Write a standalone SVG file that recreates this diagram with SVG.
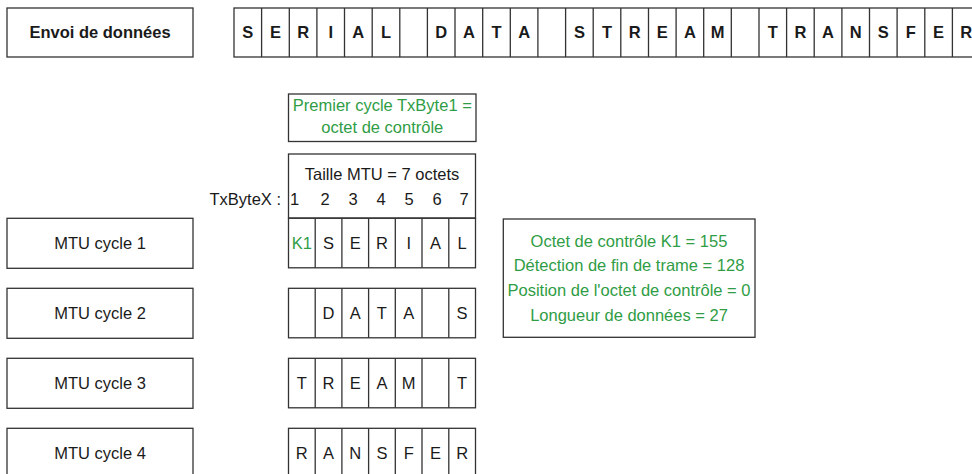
<svg xmlns="http://www.w3.org/2000/svg" width="972" height="474" viewBox="0 0 972 474">
  <style>
    .box { fill: #fff; stroke: #333; stroke-width: 1.3; }
    .div { stroke: #333; stroke-width: 1.3; fill: none; }
    text { font-family: "Liberation Sans", Arial, sans-serif; font-size: 16.5px; fill: #1a1a1a; }
    .c { text-anchor: middle; }
    .b { font-weight: bold; }
    .g { fill: #2f9d45; }
  </style>
  <rect width="972" height="474" fill="#fff"/>

  <!-- Data to send -->
  <g id="envoi">
    <rect class="box" x="7" y="8" width="186" height="49"/>
    <text class="c b" x="100" y="38">Envoi de données</text>
  </g>

  <!-- Serial stream, one cell per character (27.63 px pitch) -->
  <g id="stream">
    <rect class="box" x="234" y="8" width="746" height="49"/>
    <path class="div" d="M261.6 8V57M289.3 8V57M316.9 8V57M344.5 8V57M372.2 8V57M399.8 8V57M427.4 8V57M455 8V57M482.7 8V57M510.3 8V57M537.9 8V57M565.6 8V57M593.2 8V57M620.8 8V57M648.5 8V57M676.1 8V57M703.7 8V57M731.3 8V57M759 8V57M786.6 8V57M814.2 8V57M841.9 8V57M869.5 8V57M897.1 8V57M924.8 8V57M952.4 8V57"/>
    <g class="b">
      <text class="c b" x="247.8" y="38">S</text>
      <text class="c b" x="275.4" y="38">E</text>
      <text class="c b" x="303.1" y="38">R</text>
      <text class="c b" x="330.7" y="38">I</text>
      <text class="c b" x="358.3" y="38">A</text>
      <text class="c b" x="386" y="38">L</text>
      <text class="c b" x="441.2" y="38">D</text>
      <text class="c b" x="468.9" y="38">A</text>
      <text class="c b" x="496.5" y="38">T</text>
      <text class="c b" x="524.1" y="38">A</text>
      <text class="c b" x="579.4" y="38">S</text>
      <text class="c b" x="607" y="38">T</text>
      <text class="c b" x="634.6" y="38">R</text>
      <text class="c b" x="662.3" y="38">E</text>
      <text class="c b" x="689.9" y="38">A</text>
      <text class="c b" x="717.5" y="38">M</text>
      <text class="c b" x="772.8" y="38">T</text>
      <text class="c b" x="800.4" y="38">R</text>
      <text class="c b" x="828" y="38">A</text>
      <text class="c b" x="855.7" y="38">N</text>
      <text class="c b" x="883.3" y="38">S</text>
      <text class="c b" x="910.9" y="38">F</text>
      <text class="c b" x="938.6" y="38">E</text>
      <text class="c b" x="966.2" y="38">R</text>
    </g>
  </g>

  <!-- First-cycle note -->
  <g id="note-premier">
    <rect class="box" x="288.5" y="94" width="187.5" height="47.5"/>
    <text class="c g" x="382.3" y="110.5">Premier cycle TxByte1 =</text>
    <text class="c g" x="382.3" y="132.5">octet de contrôle</text>
  </g>

  <!-- MTU frame header + byte indices -->
  <g id="mtu-header">
    <rect class="box" x="288.5" y="154" width="187" height="64"/>
    <text class="c" x="382" y="180">Taille MTU = 7 octets</text>
    <text x="281" y="204.5" text-anchor="end">TxByteX :</text>
    <text class="c" x="294.5" y="204.5">1</text>
    <text class="c" x="325" y="204.5">2</text>
    <text class="c" x="353" y="204.5">3</text>
    <text class="c" x="381" y="204.5">4</text>
    <text class="c" x="409" y="204.5">5</text>
    <text class="c" x="437" y="204.5">6</text>
    <text class="c" x="464" y="204.5">7</text>
  </g>

  <!-- Cycle labels -->
  <g id="cycle1">
    <rect class="box" x="7" y="218.3" width="186" height="50"/>
    <text class="c" x="100" y="248.5">MTU cycle 1</text>
  </g>
  <g id="cycle2">
    <rect class="box" x="7" y="288.3" width="186" height="50"/>
    <text class="c" x="100" y="318.5">MTU cycle 2</text>
  </g>
  <g id="cycle3">
    <rect class="box" x="7" y="358.3" width="186" height="50"/>
    <text class="c" x="100" y="388.5">MTU cycle 3</text>
  </g>
  <g id="cycle4">
    <rect class="box" x="7" y="428.3" width="186" height="50"/>
    <text class="c" x="100" y="458.5">MTU cycle 4</text>
  </g>

  <!-- MTU frames, 7 cells each -->
  <g id="frame1">
    <rect class="box" x="288.5" y="218.3" width="187" height="49.5"/>
    <path class="div" d="M315.2 218.3V267.8M341.9 218.3V267.8M368.6 218.3V267.8M395.3 218.3V267.8M422 218.3V267.8M448.8 218.3V267.8"/>
    <text class="c g" x="301.8" y="248.5">K1</text>
    <text class="c" x="328.5" y="248.5">S</text>
    <text class="c" x="355.2" y="248.5">E</text>
    <text class="c" x="381.9" y="248.5">R</text>
    <text class="c" x="408.7" y="248.5">I</text>
    <text class="c" x="435.4" y="248.5">A</text>
    <text class="c" x="462.1" y="248.5">L</text>
  </g>
  <g id="frame2">
    <rect class="box" x="288.5" y="288.3" width="187" height="49.5"/>
    <path class="div" d="M315.2 288.3V337.8M341.9 288.3V337.8M368.6 288.3V337.8M395.3 288.3V337.8M422 288.3V337.8M448.8 288.3V337.8"/>
    <text class="c" x="328.5" y="318.5">D</text>
    <text class="c" x="355.2" y="318.5">A</text>
    <text class="c" x="381.9" y="318.5">T</text>
    <text class="c" x="408.7" y="318.5">A</text>
    <text class="c" x="462.1" y="318.5">S</text>
  </g>
  <g id="frame3">
    <rect class="box" x="288.5" y="358.3" width="187" height="49.5"/>
    <path class="div" d="M315.2 358.3V407.8M341.9 358.3V407.8M368.6 358.3V407.8M395.3 358.3V407.8M422 358.3V407.8M448.8 358.3V407.8"/>
    <text class="c" x="301.8" y="388.5">T</text>
    <text class="c" x="328.5" y="388.5">R</text>
    <text class="c" x="355.2" y="388.5">E</text>
    <text class="c" x="381.9" y="388.5">A</text>
    <text class="c" x="408.7" y="388.5">M</text>
    <text class="c" x="462.1" y="388.5">T</text>
  </g>
  <g id="frame4">
    <rect class="box" x="288.5" y="428.3" width="187" height="49.5"/>
    <path class="div" d="M315.2 428.3V477.8M341.9 428.3V477.8M368.6 428.3V477.8M395.3 428.3V477.8M422 428.3V477.8M448.8 428.3V477.8"/>
    <text class="c" x="301.8" y="458.5">R</text>
    <text class="c" x="328.5" y="458.5">A</text>
    <text class="c" x="355.2" y="458.5">N</text>
    <text class="c" x="381.9" y="458.5">S</text>
    <text class="c" x="408.7" y="458.5">F</text>
    <text class="c" x="435.4" y="458.5">E</text>
    <text class="c" x="462.1" y="458.5">R</text>
  </g>

  <!-- Parameter summary -->
  <g id="parametres">
    <rect class="box" x="503.3" y="219" width="251.7" height="118.3"/>
    <text class="c g" x="629" y="246.5">Octet de contrôle K1 = 155</text>
    <text class="c g" x="629" y="271.2">Détection de fin de trame = 128</text>
    <text class="c g" x="629" y="295.9">Position de l'octet de contrôle = 0</text>
    <text class="c g" x="629" y="320.6">Longueur de données = 27</text>
  </g>

  <g id="connectors"/>
</svg>
